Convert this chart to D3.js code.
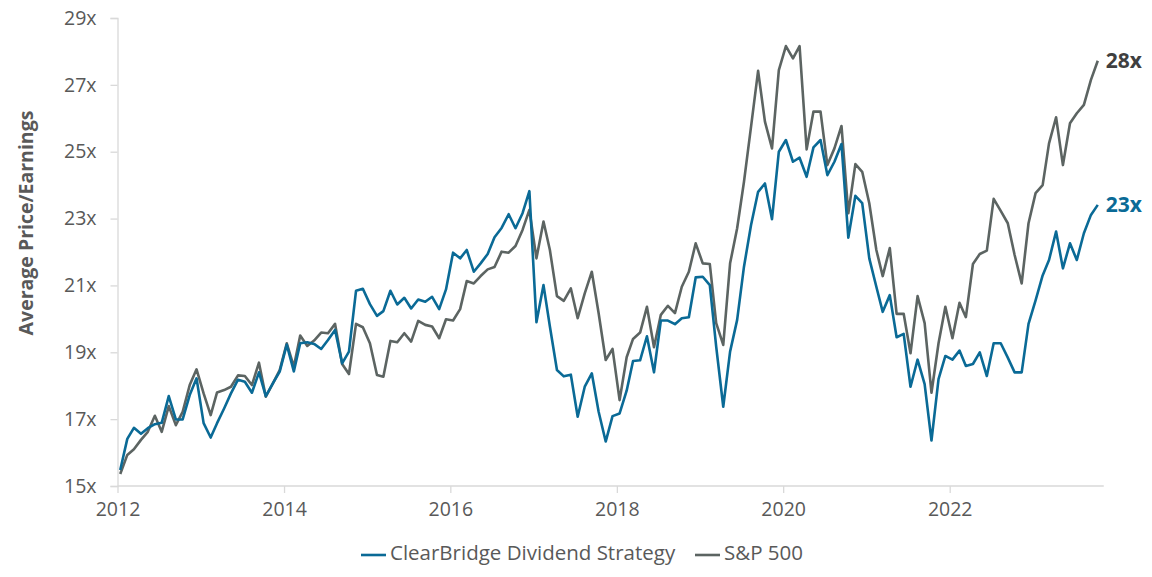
<!DOCTYPE html>
<html>
<head>
<meta charset="utf-8">
<script src="https://cdn.jsdelivr.net/npm/d3@7"></script>
<style>
  html, body { margin: 0; padding: 0; background: #ffffff; }
  svg { display: block; font-family: "Open Sans", "Noto Sans", sans-serif; }
</style>
</head>
<body>
<svg id="chart" width="1152" height="577"></svg>
<script>
// ---- data ----
const startYear = 2012, startMonth = 0; // Jan 2012, monthly observations
const clearbridge = [
15.48,16.41,16.74,16.56,16.73,16.85,16.89,17.69,16.99,16.99,17.72,18.22,
16.88,16.45,16.88,17.32,17.77,18.18,18.12,17.79,18.40,17.69,18.07,18.42,
19.23,18.43,19.27,19.30,19.25,19.10,19.37,19.67,18.67,19.02,20.84,20.90,
20.44,20.09,20.23,20.84,20.43,20.63,20.31,20.58,20.51,20.66,20.29,20.88,
21.98,21.81,22.06,21.41,21.66,21.94,22.44,22.72,23.13,22.71,23.16,23.82,
19.90,21.01,19.77,18.47,18.28,18.33,17.07,17.97,18.37,17.22,16.33,17.09,
17.17,17.85,18.74,18.76,19.48,18.40,19.95,19.95,19.84,20.02,20.05,21.24,
21.26,21.01,19.17,17.37,19.02,19.97,21.56,22.81,23.80,24.05,22.98,25.00,
25.35,24.70,24.82,24.25,25.13,25.35,24.30,24.70,25.23,22.43,23.68,23.46,
21.81,20.96,20.21,20.71,19.45,19.55,17.97,18.78,18.05,16.36,18.20,18.89,
18.78,19.05,18.59,18.65,19.00,18.29,19.27,19.27,18.84,18.40,18.40,19.85,
20.55,21.30,21.76,22.61,21.51,22.26,21.76,22.56,23.11,23.41
];
const sp500 = [
15.36,15.93,16.10,16.38,16.62,17.10,16.62,17.39,16.82,17.22,18.02,18.49,
17.77,17.12,17.80,17.87,17.97,18.31,18.29,18.02,18.69,17.67,18.07,18.47,
19.27,18.57,19.50,19.19,19.35,19.59,19.57,19.85,18.65,18.35,19.85,19.75,
19.27,18.32,18.27,19.34,19.30,19.57,19.32,19.94,19.82,19.77,19.42,19.99,
19.95,20.29,21.13,21.06,21.28,21.48,21.55,22.01,21.98,22.18,22.66,23.26,
21.81,22.91,22.06,20.68,20.54,20.91,20.02,20.76,21.41,20.17,18.77,19.10,
17.57,18.85,19.40,19.59,20.36,19.15,20.12,20.39,20.17,20.96,21.41,22.26,
21.66,21.64,19.87,19.22,21.66,22.71,24.10,25.75,27.42,25.90,25.10,27.44,
28.16,27.79,28.16,25.07,26.20,26.20,24.60,25.10,25.77,23.16,24.63,24.40,
23.46,22.06,21.28,22.12,20.15,20.15,18.97,20.68,19.87,17.79,19.27,20.36,
19.42,20.48,20.05,21.64,21.94,22.04,23.59,23.23,22.86,21.91,21.06,22.86,
23.76,24.00,25.25,26.03,24.60,25.85,26.15,26.40,27.15,27.72
];
const seriesNames = ["ClearBridge Dividend Strategy", "S&P 500"];
const endLabels = ["23x", "28x"];
const yTicks = [15, 17, 19, 21, 23, 25, 27, 29];
const xTickYears = [2012, 2014, 2016, 2018, 2020, 2022];
const yTitle = "Average Price/Earnings";

// ---- styling ----
const colors = ["#0a6a96", "#5c6462"];
const labelColors = ["#0a6a96", "#3f3f3f"];

const svg = d3.select("#chart");
const mLeft = 117.5, mRight = 1116, mTop = 18, mBottom = 486;

const dates = clearbridge.map((_, i) => new Date(startYear, startMonth + i, 13));

const x = d3.scaleTime()
  .domain([new Date(2012, 0, 1), new Date(2024, 0, 1)])
  .range([mLeft, mRight]);
const y = d3.scaleLinear().domain([15, 29]).range([mBottom, mTop]);

// y axis
const yAxis = svg.append("g")
  .attr("transform", `translate(${mLeft},0)`)
  .call(d3.axisLeft(y).tickValues(yTicks).tickSize(7).tickPadding(14).tickFormat(d => d + "x"));
yAxis.select(".domain").attr("stroke", "#d9d9d9").attr("stroke-width", 1.3);
yAxis.selectAll(".tick line").attr("stroke", "#d9d9d9").attr("stroke-width", 1.3);
yAxis.selectAll(".tick text")
  .attr("fill", "#595959").attr("font-size", "19.5px")
  .attr("font-family", "'Open Sans', 'Noto Sans', sans-serif");

// x axis
const xAxis = svg.append("g")
  .attr("transform", `translate(0,${mBottom})`)
  .call(d3.axisBottom(x)
    .tickValues(xTickYears.map(yr => new Date(yr, 0, 1)))
    .tickSize(7).tickPadding(9)
    .tickFormat(d3.timeFormat("%Y")));
xAxis.select(".domain").attr("stroke", "#d9d9d9").attr("stroke-width", 1.3)
  .attr("d", `M${mLeft},0H${x(dates[dates.length-1]) + 6}`);
xAxis.selectAll(".tick line").attr("stroke", "#d9d9d9").attr("stroke-width", 1.3);
xAxis.selectAll(".tick text")
  .attr("fill", "#595959").attr("font-size", "19.5px")
  .attr("font-family", "'Open Sans', 'Noto Sans', sans-serif");

// y title
svg.append("text")
  .attr("transform", `translate(33,223) rotate(-90)`)
  .attr("text-anchor", "middle")
  .attr("fill", "#595959")
  .attr("font-size", "19.5px")
  .attr("font-weight", "bold")
  .text(yTitle);

// lines
const line = d3.line().x((d, i) => x(dates[i])).y(d => y(d));
const allSeries = [clearbridge, sp500];
[1, 0].forEach(k => {
  svg.append("path")
    .datum(allSeries[k])
    .attr("fill", "none")
    .attr("stroke", colors[k])
    .attr("stroke-width", 2.6)
    .attr("stroke-linejoin", "round")
    .attr("d", line);
});

// end labels
allSeries.forEach((s, k) => {
  const last = s[s.length - 1];
  svg.append("text")
    .attr("x", x(dates[s.length - 1]) + 8)
    .attr("y", y(last) + 2)
    .attr("dominant-baseline", "middle")
    .attr("fill", labelColors[k])
    .attr("font-size", "21px")
    .attr("font-weight", "bold")
    .text(endLabels[k]);
});

// legend
const legend = svg.append("g").attr("transform", "translate(0,555)");
const legendItems = [
  { name: seriesNames[0], color: colors[0], x0: 361 },
  { name: seriesNames[1], color: colors[1], x0: 695 }
];
legendItems.forEach(it => {
  legend.append("line")
    .attr("x1", it.x0).attr("x2", it.x0 + 25)
    .attr("y1", 0).attr("y2", 0)
    .attr("stroke", it.color).attr("stroke-width", 2.6);
  legend.append("text")
    .attr("x", it.x0 + 29).attr("y", 0)
    .attr("dominant-baseline", "middle")
    .attr("fill", "#595959")
    .attr("font-size", "20.5px")
    .text(it.name);
});
</script>
</body>
</html>
